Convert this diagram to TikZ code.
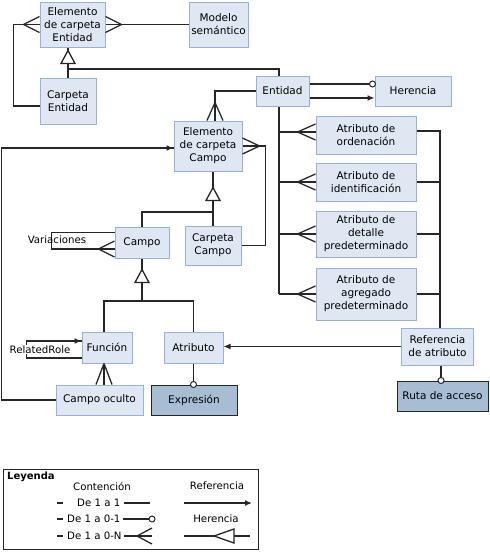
\documentclass[tikz,border=0pt]{standalone}
\usepackage{fontspec}
\setmainfont{DejaVu Sans}
\usetikzlibrary{arrows.meta,calc}
\definecolor{bfill}{RGB}{223,231,243}
\definecolor{bdraw}{RGB}{150,176,218}
\definecolor{dfill}{RGB}{166,189,212}
\tikzset{
 box/.style={draw=bdraw, fill=bfill, line width=1pt, align=center, inner sep=0pt, font=\fontsize{10.5}{13}\selectfont},
 dbox/.style={box, draw=black!85, fill=dfill},
 conn/.style={line width=1.3pt, black!85},
 refarrow/.style={conn, -{Latex[length=7pt,width=6pt]}},
 lbl/.style={font=\fontsize{10.2}{12}\selectfont, inner sep=0pt},
}
\newcommand\crowft[3][17]{\begin{scope}[shift={#2},rotate=#3]\draw[conn] (#1,0)--(0,8) (#1,0)--(0,-8);\end{scope}}
\newcommand\ocirc[1]{\draw[conn, fill=white, line width=1pt] #1 circle[radius=3pt];}
\newcommand\inhtri[1]{\draw[conn, fill=white, line join=miter] #1 -- ++(-7,13) -- ++(14,0) -- cycle;}
\begin{document}
\begin{tikzpicture}[x=1pt,y=-1pt]
\useasboundingbox (0,0) rectangle (490,552);
% boxes
\node[box, minimum width=65, minimum height=45] (ECE) at (72.5,24.5) {Elemento\\de carpeta\\Entidad};
\node[box, minimum width=59, minimum height=45] (MS) at (218.5,24.5) {Modelo\\semántico};
\node[box, minimum width=56, minimum height=46] (CE) at (68,101) {Carpeta\\Entidad};
\node[box, minimum width=53, minimum height=30] (Ent) at (282.5,91) {Entidad};
\node[box, minimum width=76, minimum height=30] (Her) at (413,91) {Herencia};
\node[box, minimum width=68, minimum height=50] (ECC) at (208,146) {Elemento\\de carpeta\\Campo};
\node[box, minimum width=100, minimum height=38] (AO) at (366,135) {Atributo de\\ordenación};
\node[box, minimum width=100, minimum height=38] (AI) at (366,182) {Atributo de\\identificación};
\node[box, minimum width=100, minimum height=46] (ADP) at (366,234) {Atributo de\\detalle\\predeterminado};
\node[box, minimum width=100, minimum height=52] (AAP) at (366,294) {Atributo de\\agregado\\predeterminado};
\node[box, minimum width=54, minimum height=31] (Campo) at (142,242.5) {Campo};
\node[box, minimum width=56, minimum height=39] (CC) at (213,245.5) {Carpeta\\Campo};
\node[box, minimum width=50, minimum height=31] (Func) at (107,347.5) {Función};
\node[box, minimum width=59, minimum height=31] (Atr) at (193.5,347.5) {Atributo};
\node[box, minimum width=87, minimum height=30] (CO) at (99.5,400) {Campo oculto};
\node[dbox, minimum width=86, minimum height=30] (Exp) at (194,400) {Expresión};
\node[box, minimum width=72, minimum height=37] (RA) at (437.5,346.5) {Referencia\\de atributo};
\node[dbox, minimum width=91, minimum height=30] (Ruta) at (442.5,396) {Ruta de acceso};
\coordinate (ev) at (279,0);
\coordinate (rv) at (440,0);
\coordinate (fx) at (104,0);
\coordinate (rx) at (441,0);
% ECE - MS
\draw[conn] (ECE.east) -- (MS.west);
\crowft[16]{(ECE.east)}{0}
% CE loop to ECE
\draw[conn] ([yshift=-5pt]CE.west) -- ++(-26,0) |- (ECE.west);
\crowft[16]{(ECE.west)}{180}
% inheritance CE -> ECE, Ent
\draw[conn] (CE.north) -- (CE.north |- ECE.south);
\draw[conn] (CE.north |- 0,69) -| (ev |- Ent.north);
\inhtri{($(CE.north |- ECE.south)+(0,3)$)}
% Ent - Her
\draw[conn] ([yshift=7pt]Ent.east) -- ([yshift=7pt]Her.west);
\ocirc{($([yshift=7pt]Her.west)+(-2,0)$)}
\draw[refarrow] ([yshift=-7pt]Ent.east) -- ([yshift=-7pt]Her.west);
% Ent - ECC
\draw[conn] (Ent.west) -| ([xshift=7pt]ECC.north);
\crowft[18]{([xshift=7pt]ECC.north)}{90}
% Ent - attributes
\draw[conn] (ev |- Ent.south) -- (ev |- AAP.west);
\draw[conn] (ev |- 0,132) -- (AO.west |- 0,132);
\crowft[18]{(AO.west |- 0,132)}{180}
\draw[conn] (ev |- AI.west) -- (AI.west);
\crowft[18]{(AI.west)}{180}
\draw[conn] (ev |- ADP.west) -- (ADP.west);
\crowft[18]{(ADP.west)}{180}
\draw[conn] (ev |- AAP.west) -- (AAP.west);
\crowft[18]{(AAP.west)}{180}
% attributes - RA
\draw[conn] (AO.east |- 0,131) -- (rv |- 0,131) -- (rv |- RA.north);
\draw[conn] (AI.east) -- (rv |- AI.east);
\draw[conn] (ADP.east) -- (rv |- ADP.east);
\draw[conn] (AAP.east) -- (rv |- AAP.east);
% RA -> Atr
\draw[refarrow] (RA.west) -- (RA.west -| Atr.east);
% RA - Ruta
\draw[conn] (rx |- RA.south) -- (rx |- Ruta.north);
\ocirc{(rx |- Ruta.north)}
% ECC - CC
\draw[conn] (ECC.east) -- ++(23,0) |- (CC.east);
\crowft[17]{(ECC.east)}{0}
% inheritance Campo, CC -> ECC
\draw[conn] (CC.north) -- (CC.north |- ECC.south);
\draw[conn] (Campo.north) |- (CC.north |- 0,212);
\inhtri{($(CC.north |- ECC.south)+(0,16)$)}
% Variaciones
\draw[conn] ([yshift=10pt]Campo.west) -- ++(-63,0) |- ([yshift=-6.5pt]Campo.west);
\crowft[16]{([yshift=-6.5pt]Campo.west)}{180}
\node[lbl] (var) at (57,240) {Variaciones};
% inheritance Func, Atr -> Campo
\draw[conn] (Campo.south) -- (Campo.south |- 0,301);
\draw[conn] (fx |- Func.north) |- (Atr.north |- 0,301) -- (Atr.north);
\inhtri{($(Campo.south)+(0,11)$)}
% RelatedRole
\draw[conn] ([yshift=-10.5pt]Func.west) -- ++(-55,0) |- ([yshift=6.5pt]Func.west);
\draw[refarrow] ([yshift=6.5pt]Func.west) ++(-20,0) -- ([yshift=6.5pt]Func.west);
\node[lbl, fill=white, inner sep=1pt] (rr) at (40,349.5) {RelatedRole};
% Func - CO
\draw[conn] (fx |- Func.south) -- (fx |- CO.north);
\crowft[21]{(fx |- CO.north)}{90}
% CO -> ECC
\draw[conn] (CO.west) -- ++(-54,0) |- ([yshift=-2pt]ECC.west);
\draw[refarrow] ([yshift=-2pt]ECC.west) ++(-20,0) -- ([yshift=-2pt]ECC.west);
% Atr - Exp
\draw[conn] (Atr.south) -- (Atr.south |- Exp.north);
\ocirc{(Atr.south |- Exp.north)}
% Legend
\node[draw=black!85, line width=1.2pt, minimum width=255, minimum height=80, anchor=north west, inner sep=0pt] (leg) at (3,469) {};
\node[lbl, anchor=west, font=\fontsize{10}{12}\selectfont\bfseries] (legt) at (7,477) {Leyenda};
\node[lbl] (lc) at (102,486) {Contención};
\node[lbl] (lr) at (217,486) {Referencia};
\node[lbl] (lh) at (216,519) {Herencia};
\node[lbl, anchor=west] (l1) at (77,503) {De 1 a 1};
\node[lbl, anchor=west] (l2) at (67,519) {De 1 a 0-1};
\node[lbl, anchor=west] (l3) at (67,536) {De 1 a 0-N};
\coordinate (d1a) at (57,503); \coordinate (d1b) at (63,503);
\coordinate (d2a) at (57,519); \coordinate (d2b) at (63,519);
\coordinate (d3a) at (57,536); \coordinate (d3b) at (63,536);
\draw[conn] (d1a) -- (d1b) (d2a) -- (d2b) (d3a) -- (d3b);
\coordinate (e1) at (150,503);
\draw[conn] ([xshift=4pt]l1.east) -- (e1);
\coordinate (e2) at (152,519);
\draw[conn] ([xshift=2pt]l2.east) -- (e2);
\ocirc{(e2)}
\coordinate (e3) at (152,536);
\draw[conn] ([xshift=2pt]l3.east) -- (e3);
\crowft[15]{(e3)}{180}
\coordinate (ra) at (184,503); \coordinate (rb) at (252,503);
\draw[refarrow] (ra) -- (rb);
\coordinate (ha) at (184,536); \coordinate (hb) at (250,536);
\draw[conn] (ha) -- (hb);
\draw[conn, fill=white, line join=miter] (214,536) -- (234,529) -- (234,543) -- cycle;
\end{tikzpicture}
\end{document}
